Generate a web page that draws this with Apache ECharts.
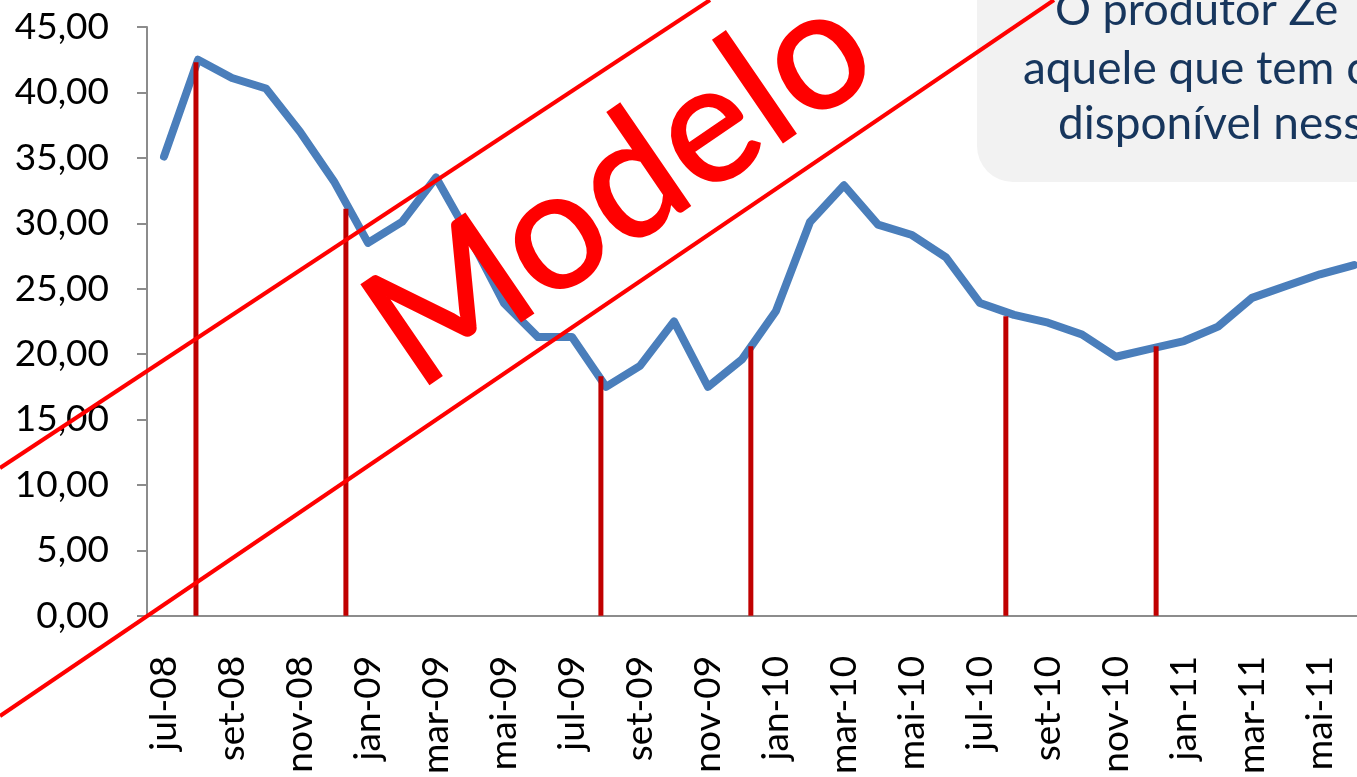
<!DOCTYPE html>
<html>
<head>
<meta charset="utf-8" />
<script src="https://cdn.jsdelivr.net/npm/echarts@6/dist/echarts.min.js"></script>
<style>
  html, body { margin: 0; padding: 0; background: #fff; overflow: hidden; }
  /* o gráfico original está cortado à direita: a área vai além da janela */
  #main { width: 1400px; height: 777px; }
</style>
</head>
<body>
<div id="main"></div>
<script type="text/javascript">
	// meses (eixo x)
	var meses = ['jul-08','ago-08','set-08','out-08','nov-08','dez-08',
		'jan-09','fev-09','mar-09','abr-09','mai-09','jun-09',
		'jul-09','ago-09','set-09','out-09','nov-09','dez-09',
		'jan-10','fev-10','mar-10','abr-10','mai-10','jun-10',
		'jul-10','ago-10','set-10','out-10','nov-10','dez-10',
		'jan-11','fev-11','mar-11','abr-11','mai-11','jun-11'];

	// preços (linha azul)
	var precos = [35.1, 42.5, 41.1, 40.3, 37.0, 33.2,
		28.5, 30.1, 33.5, 28.9, 23.9, 21.3,
		21.3, 17.5, 19.1, 22.5, 17.5, 19.6,
		23.3, 30.1, 32.9, 29.9, 29.1, 27.4,
		23.9, 23.0, 22.4, 21.5, 19.8, 20.4,
		21.0, 22.1, 24.3, 25.2, 26.1, 26.8];

	// barras vermelhas: posição em meses (0 = jul-08) e altura
	var marcasPos = [0.94, 5.35, 12.85, 17.26, 24.76, 29.18];
	var marcasVal = [42.3, 31.1, 18.3, 20.6, 22.9, 20.6];

	// eixo y
	var yTicks = [0, 5, 10, 15, 20, 25, 30, 35, 40, 45];

	// eixo auxiliar vai de 0 a 36 (bordas das categorias), centro do mês = pos + 0.5
	var marcas = [];
	for (var i = 0; i < marcasPos.length; i++) {
		marcas.push([marcasPos[i] + 0.5, marcasVal[i]]);
	}

	var myChart = echarts.init(document.getElementById('main'));

	var fonte = 'Lato, Carlito, "Open Sans", sans-serif';

	var option = {
		animation: false,
		grid: { left: 147, top: 27, width: 1224, height: 590, containLabel: false },
		xAxis: [{
			type: 'category',
			data: meses,
			boundaryGap: true,
			axisLine: { lineStyle: { color: '#8c8c8c', width: 2 } },
			axisTick: { interval: 1, length: 10, lineStyle: { color: '#8c8c8c', width: 2 } },
			axisLabel: { interval: 1, rotate: 90, margin: 40, color: '#000', fontSize: 37, fontFamily: fonte },
			splitLine: { show: false }
		}, {
			type: 'value',
			min: 0,
			max: 36,
			interval: 6,
			show: false
		}],
		yAxis: {
			type: 'value',
			min: yTicks[0],
			max: yTicks[yTicks.length - 1],
			interval: 5,
			axisLine: { show: true, onZero: false, lineStyle: { color: '#8c8c8c', width: 2 } },
			axisTick: { show: true, length: 10, lineStyle: { color: '#8c8c8c', width: 2 } },
			axisLabel: {
				margin: 38, color: '#000', fontSize: 37, fontFamily: fonte,
				formatter: function (v) { return v.toFixed(2).replace('.', ','); }
			},
			splitLine: { show: false }
		},
		series: [{
			type: 'line',
			data: precos,
			showSymbol: false,
			symbol: 'none',
			lineStyle: { color: '#4a7ebb', width: 8, join: 'round', cap: 'round' },
			z: 2
		}, {
			type: 'custom',
			xAxisIndex: 1,
			data: marcas,
			z: 3,
			renderItem: function (params, api) {
				var p0 = api.coord([api.value(0), 0]);
				var p1 = api.coord([api.value(0), api.value(1)]);
				return {
					type: 'line',
					shape: { x1: p0[0], y1: p0[1], x2: p1[0], y2: p1[1] },
					style: { stroke: '#c00000', lineWidth: 5 }
				};
			}
		}],
		graphic: [
			// caixa de texto (canto superior direito)
			{ type: 'rect', z: 10, shape: { x: 977, y: -40, width: 440, height: 222, r: 36 }, style: { fill: '#f2f2f2' } },
			{ type: 'text', z: 11, x: 1055, y: -12, style: { text: 'O produtor Zé Tonho é', fill: '#17365d', font: '45px ' + fonte } },
			{ type: 'text', z: 11, x: 1023, y: 46, style: { text: 'aquele que tem o produto', fill: '#17365d', font: '46px ' + fonte } },
			{ type: 'text', z: 11, x: 1058, y: 101, style: { text: 'disponível nesse momento', fill: '#17365d', font: '46px ' + fonte } },
			// marca d'água "Modelo"
			{ type: 'line', z: 20, shape: { x1: 0, y1: 468, x2: 710, y2: 0 }, style: { stroke: '#ff0000', lineWidth: 4 } },
			{ type: 'line', z: 20, shape: { x1: 0, y1: 716, x2: 1054, y2: 0 }, style: { stroke: '#ff0000', lineWidth: 4 } },
			{
				type: 'text', z: 21, x: 620, y: 188, rotation: 0.6,
				style: { text: 'Modelo', fill: '#ff0000', stroke: '#ff0000', lineWidth: 2, font: '168px ' + fonte, textAlign: 'center', textVerticalAlign: 'middle' }
			}
		]
	};

	myChart.setOption(option);
</script>
</body>
</html>
